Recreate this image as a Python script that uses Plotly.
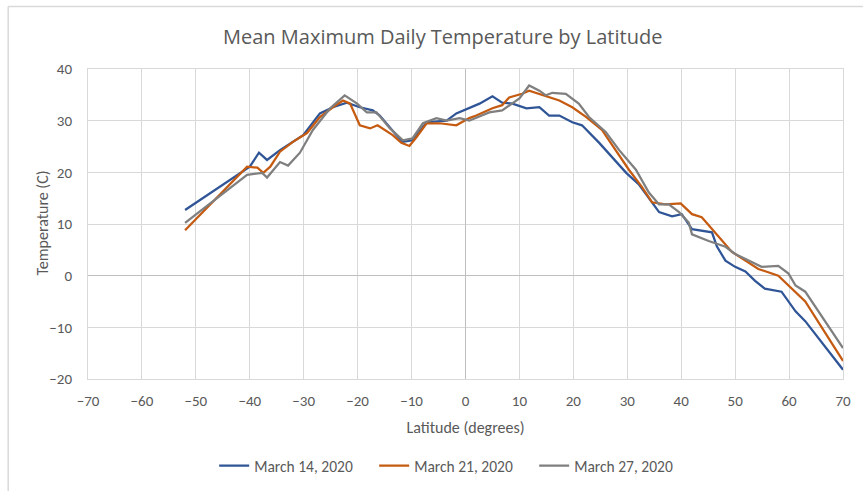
import plotly.graph_objects as go

# Latitude (degrees) / mean max temperature (C)
lat_mar14 = [-52, -40, -38.3, -36.8, -34.4, -32, -30.1, -27, -24.6, -22,
             -19.6, -17.2, -15.9, -12.8, -11.6, -9.8, -7.2, -3.5, -1.7, 2.6,
             5, 6.8, 8.7, 11.3, 13.7, 15.5, 17.4, 19.8, 21.6, 24.8,
             27.2, 29.8, 32.2, 34.6, 35.9, 38.3, 40.1, 42, 44.2, 45.7,
             46.6, 48.2, 50, 51.9, 53.7, 55.5, 58.6, 61.2, 63, 70]
temp_mar14 = [12.7, 21.1, 23.8, 22.4, 24.3, 25.9, 27.2, 31.4, 32.6, 33.5,
              32.6, 32, 31, 27.2, 25.9, 26.2, 29.7, 30, 31.4, 33.3,
              34.7, 33.5, 33.3, 32.4, 32.6, 31, 31, 29.7, 29.1, 25.7,
              23, 19.9, 17.6, 14.2, 12.3, 11.5, 11.9, 9, 8.6, 8.4,
              5.7, 2.9, 1.7, 0.8, -1, -2.5, -3.1, -6.9, -8.8, -18.2]

lat_mar21 = [-52, -40.5, -38.6, -37.5, -36.2, -34.4, -32, -29.4, -27, -24.6,
             -22.7, -21.4, -19.6, -17.7, -16.3, -13.5, -11.9, -10.4, -9.1, -7.2,
             -4.8, -1.7, 0.7, 2, 5, 6.8, 8.1, 10.5, 11.8, 13.7,
             15.5, 17.4, 19.8, 22.4, 25.3, 27.9, 30.3, 32.7, 34.6, 37.1,
             39.9, 42, 43.8, 44.5, 46.9, 49.4, 51.9, 54.3, 58, 59.9,
             63, 70]
temp_mar21 = [8.8, 21.1, 20.9, 19.9, 21.1, 24, 25.9, 27.6, 30.7, 32.6,
              33.9, 33.3, 29.1, 28.5, 29.1, 27.2, 25.7, 25.1, 26.8, 29.5,
              29.5, 29.1, 30.5, 31, 32.4, 33, 34.5, 35.2, 35.8, 35.2,
              34.5, 33.9, 32.6, 30.7, 28.2, 24.3, 20.5, 17.2, 14.2, 13.8,
              14, 11.9, 11.3, 10.5, 7.7, 4.6, 2.9, 1.3, 0, -1.9,
              -5, -16.5]

lat_mar27 = [-52, -40.5, -37.7, -36.8, -34.4, -32.9, -30.7, -28.3, -25.1, -22.4,
             -20.1, -18.3, -16.5, -14, -11.6, -9.8, -7.9, -5.4, -3.5, -1.1,
             0.7, 4.4, 6.8, 8.1, 10, 11.8, 13.7, 14.9, 16.1, 18.6,
             21, 22.9, 26, 28.5, 31.6, 34, 35.9, 37.7, 39.6, 41.4,
             42, 45.1, 48.2, 50, 52.5, 54.9, 58, 59.9, 61.2, 63,
             70]
temp_mar27 = [10.2, 19.5, 19.9, 19, 22, 21.3, 23.8, 28.2, 32.4, 34.9,
              33.3, 31.6, 31.6, 28.5, 26.2, 26.6, 29.5, 30.5, 30, 30.5,
              30, 31.6, 32, 33, 34.3, 36.8, 35.8, 34.9, 35.4, 35.2,
              33.3, 30.7, 27.8, 24.3, 20.5, 16.1, 13.8, 13.8, 12.3, 10.3,
              8, 6.7, 5.6, 4.2, 2.9, 1.7, 1.9, 0.4, -1.9, -3.1,
              -14]

x_ticks = list(range(-70, 71, 10))
y_ticks = list(range(-20, 41, 10))

series = [
    ("March 14, 2020", lat_mar14, temp_mar14, "#2F5597"),
    ("March 21, 2020", lat_mar21, temp_mar21, "#C55A11"),
    ("March 27, 2020", lat_mar27, temp_mar27, "#7F7F7F"),
]

fig = go.Figure()
for name, x, y, color in series:
    fig.add_trace(go.Scatter(
        x=x, y=y, mode='lines', name=name,
        line=dict(color=color, width=2.25)
    ))

text_font = "Carlito, 'Liberation Sans Narrow', 'Open Sans', sans-serif"

fig.update_layout(
    width=863, height=495,
    margin=dict(l=88, r=18, t=69, b=113),
    paper_bgcolor='white', plot_bgcolor='white',
    font=dict(family=text_font, size=15, color='#595959'),
    title=dict(
        text="Mean Maximum Daily Temperature by Latitude",
        x=0.513, xanchor='center', y=1 - 37 / 495, yanchor='middle',
        font=dict(family="'Open Sans', sans-serif", size=20, color='#595959')
    ),
    xaxis=dict(
        range=[-70, 70], tickvals=x_ticks, showgrid=True,
        gridcolor='#D9D9D9', gridwidth=1,
        zeroline=True, zerolinecolor='#BFBFBF', zerolinewidth=1,
        showline=True, linecolor='#D9D9D9', mirror=True,
        ticks='', ticklabelstandoff=8,
        title=dict(text="Latitude (degrees)", standoff=12,
                   font=dict(size=16, color='#595959')),
        tickfont=dict(size=15, color='#595959')
    ),
    yaxis=dict(
        range=[-20, 40], tickvals=y_ticks, showgrid=True,
        gridcolor='#D9D9D9', gridwidth=1,
        zeroline=True, zerolinecolor='#BFBFBF', zerolinewidth=1,
        showline=True, linecolor='#D9D9D9', mirror=True,
        ticks='', ticklabelstandoff=12,
        tickfont=dict(size=15, color='#595959')
    ),
    legend=dict(
        orientation='h', x=0.485, xanchor='center',
        y=-0.281, yanchor='middle',
        font=dict(size=15.5, color='#595959'),
        itemwidth=30, entrywidth=115, entrywidthmode='pixels'
    ),
    showlegend=True,
)

# y-axis title placed by hand (sits closer to the tick labels than standoff allows)
fig.add_annotation(
    text="Temperature (C)", textangle=-90,
    xref='paper', yref='paper', x=-0.0608, y=0.5016,
    xanchor='center', yanchor='middle', showarrow=False,
    font=dict(size=16, color='#595959')
)

# chart-area border (left and top edges visible in the reference)
fig.add_shape(type='line', xref='paper', yref='paper',
              x0=-0.1057, x1=-0.1057, y0=1.2013, y1=-0.361,
              line=dict(color='#D9D9D9', width=1.5))
fig.add_shape(type='line', xref='paper', yref='paper',
              x0=-0.1057, x1=1.03, y0=1.2013, y1=1.2013,
              line=dict(color='#D9D9D9', width=1.5))

# drop the default 8px body margin so the figure sits at the page origin
fig.write_html("out.html", config={'displayModeBar': False},
               post_script="document.body.style.margin='0';")
